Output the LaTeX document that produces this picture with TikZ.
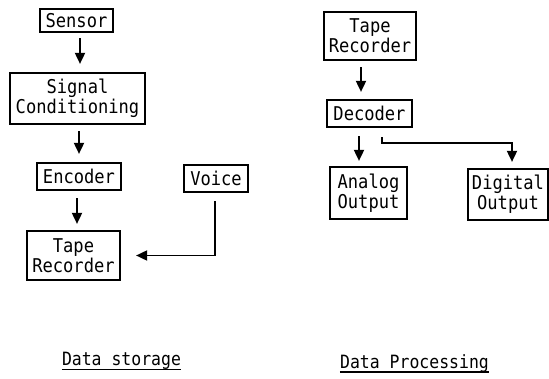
\documentclass[tikz,border=0pt]{standalone}
\usepackage{fontspec}
\newfontfamily\boxfont[FakeStretch=0.9]{DejaVu Sans Mono}
\usetikzlibrary{arrows.meta,calc}
\begin{document}
\begin{tikzpicture}[x=1pt,y=-1pt,
  blk/.style={draw,line width=2.2pt,inner sep=0pt,align=center,
    font=\boxfont\fontsize{19}{20}\selectfont},
  arr/.style={line width=1.8pt,-{Triangle[length=11pt,width=10pt]}},
  lbl/.style={anchor=base,inner sep=0pt,font=\boxfont\fontsize{18.3}{19}\selectfont}]
\useasboundingbox (0,0) rectangle (549,379);
% Data storage
\node[blk,minimum width=73pt,minimum height=23pt] (sensor) at (76.5,20.5) {Sensor};
\node[blk,minimum width=135pt,minimum height=51pt] (signal) at (77.5,98.5) {Signal\\Conditioning};
\node[blk,minimum width=84pt,minimum height=27pt] (encoder) at (79,176.5) {Encoder};
\node[blk,minimum width=64pt,minimum height=27pt] (voice) at (216,178.5) {Voice};
\node[blk,minimum width=93pt,minimum height=49pt] (tapeL) at (73.5,255.5) {Tape\\Recorder};
% Data processing
\node[blk,minimum width=92pt,minimum height=48pt] (tapeR) at (370,36) {Tape\\Recorder};
\node[blk,minimum width=85pt,minimum height=27pt] (decoder) at (369.5,113.5) {Decoder};
\node[blk,minimum width=77pt,minimum height=52pt] (analog) at (368.5,193) {Analog\\Output};
\node[blk,minimum width=80pt,minimum height=51pt] (digital) at (508,194.5) {Digital\\Output};
% arrows
\draw[arr] ([xshift=3.5pt,yshift=-5pt]sensor.south) -- ([xshift=3.5pt,yshift=8pt]sensor.south |- signal.north);
\draw[arr] ([xshift=1.5pt,yshift=-6pt]signal.south) -- ([xshift=1.5pt,yshift=8pt]signal.south |- encoder.north);
\draw[arr] ([xshift=-2pt,yshift=-7pt]encoder.south) -- ([xshift=-2pt,yshift=6pt]encoder.south |- tapeL.north);
\draw[arr] ([xshift=-1pt,yshift=-8pt]voice.south) |- ([xshift=15pt]tapeL.east);
\draw[arr] ([xshift=-9pt,yshift=-6pt]tapeR.south) -- ([xshift=-9pt,yshift=7pt]tapeR.south |- decoder.north);
\draw[arr] ([xshift=-10.5pt,yshift=-8pt]decoder.south) -- ([xshift=-10.5pt,yshift=5pt]decoder.south |- analog.north);
\coordinate (dk) at ([xshift=12.5pt,yshift=-9pt]decoder.south);
\draw[arr] (dk) -- ++(0,6) -| ([xshift=4pt,yshift=6pt]digital.north);
% labels
\node[lbl] (ls) at (121.5,366) {Data storage};
\node[lbl] (lp) at (414.5,368) {Data Processing};
\draw[line width=1.4pt] ([yshift=-3.5pt]ls.base west) -- ([yshift=-3.5pt]ls.base east);
\draw[line width=1.4pt] ([yshift=-4pt]lp.base west) -- ([yshift=-4pt]lp.base east);
\end{tikzpicture}
\end{document}
